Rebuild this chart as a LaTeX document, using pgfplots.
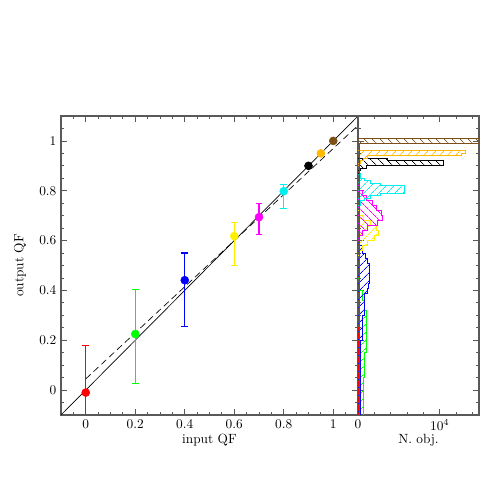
\documentclass[border=0pt]{standalone}
\usepackage{pgfplots}
\pgfplotsset{compat=1.18}
\usetikzlibrary{patterns.meta}

\definecolor{qfred}{RGB}{255,0,0}
\definecolor{qfgreen}{RGB}{0,255,0}
\definecolor{qfblue}{RGB}{0,0,255}
\definecolor{qfyellow}{RGB}{255,240,0}
\definecolor{qfcyan}{RGB}{0,240,240}
\definecolor{qfmagenta}{RGB}{255,0,255}
\definecolor{qforange}{RGB}{255,185,0}
\definecolor{qfbrown}{RGB}{125,80,25}

\pgfplotsset{
  qfpanel/.style={
    scale only axis, height=224.25pt,
    ymin=-0.1, ymax=1.1,
    axis line style={black!65, line width=0.8pt},
    tick style={black!65, line width=0.6pt},
    major tick length=4.5pt, minor tick length=2.2pt,
    tick align=inside,
    ytick={0,0.2,0.4,0.6,0.8,1},
    minor ytick={-0.05,0,0.05,0.1,0.15,0.2,0.25,0.3,0.35,0.4,0.45,0.5,0.55,0.6,0.65,0.7,0.75,0.8,0.85,0.9,0.95,1,1.05},
  },
  % vertical error bar with caps, from lower to upper end
  qfbar/.style={color=#1, line width=0.9pt, mark=-, mark size=2.5pt,
    mark options={color=#1, line width=0.9pt}},
  qfpt/.style={only marks, mark=*, mark size=3pt,
    mark options={fill=#1, draw=#1}},
  hist/.style 2 args={const plot mark right, line width=0.6pt, draw=#1,
    pattern={Lines[angle=#2, distance=4pt, line width=0.55pt]}, pattern color=#1},
}

\begin{document}
\begin{tikzpicture}
\path[use as bounding box] (0,0) rectangle (368.25pt,368.25pt);

% left panel: output vs input QF
\begin{axis}[qfpanel,
  at={(45.75pt,57pt)}, anchor=south west,
  width=222.75pt,
  xmin=-0.1, xmax=1.1,
  xtick={0,0.2,0.4,0.6,0.8,1},
  minor xtick={-0.05,0,0.05,0.1,0.15,0.2,0.25,0.3,0.35,0.4,0.45,0.5,0.55,0.6,0.65,0.7,0.75,0.8,0.85,0.9,0.95,1,1.05},
  xlabel={input QF}, ylabel={output QF},
  xlabel style={at={(axis description cs:0.5,-0.085)}, anchor=center},
  ylabel style={at={(axis description cs:-0.138,0.5)}, anchor=center},
]
\addplot[black, line width=0.5pt] coordinates {(-0.1,-0.1) (1.1,1.1)};
\addplot[black, line width=0.5pt, dash pattern=on 5pt off 3pt] coordinates {(0,0.045) (1.1,1.062)};

% error bars (lower end, upper end)
\addplot[qfbar=qfred] coordinates {(0,-0.21) (0,0.18)};
\addplot[qfbar=qfgreen] coordinates {(0.2,0.028) (0.2,0.405)};
\addplot[qfbar=qfblue] coordinates {(0.4,0.254) (0.4,0.55)};
\addplot[qfbar=qfyellow] coordinates {(0.6,0.499) (0.6,0.673)};
\addplot[qfbar=qfmagenta] coordinates {(0.7,0.623) (0.7,0.749)};
\addplot[qfbar=qfcyan] coordinates {(0.8,0.73) (0.8,0.825)};

% median output QF per input QF
\addplot[qfpt=qfred] coordinates {(0,-0.01)};
\addplot[qfpt=qfgreen] coordinates {(0.2,0.225)};
\addplot[qfpt=qfblue] coordinates {(0.4,0.441)};
\addplot[qfpt=qfyellow] coordinates {(0.6,0.618)};
\addplot[qfpt=qfmagenta] coordinates {(0.7,0.694)};
\addplot[qfpt=qfcyan] coordinates {(0.8,0.798)};
\addplot[qfpt=black] coordinates {(0.9,0.9)};
\addplot[qfpt=qforange] coordinates {(0.95,0.95)};
\addplot[qfpt=qfbrown] coordinates {(1,1)};
\end{axis}

% right panel: histograms of output QF
\begin{axis}[qfpanel,
  at={(268.5pt,57pt)}, anchor=south west,
  width=90.75pt,
  xmin=0, xmax=14800,
  xtick={0,10000}, xticklabels={0,$10^4$},
  minor xtick={2000,4000,6000,8000,12000,14000},
  scaled x ticks=false,
  yticklabels={},
  xlabel={N. obj.},
  xlabel style={at={(axis description cs:0.5,-0.085)}, anchor=center},
]
\addplot[hist={qfred}{45}] table {
n y
0 -0.10
100 -0.10
0 0.25
};
\addplot[hist={qfgreen}{45}] table {
n y
0 -0.10
600 -0.10
800 0.05
1050 0.15
800 0.32
500 0.36
200 0.40
0 0.45
};
\addplot[hist={qfblue}{45}] table {
n y
0 -0.10
300 -0.10
500 0.20
750 0.30
1150 0.39
1300 0.41
1450 0.43
1200 0.51
900 0.53
500 0.55
200 0.58
0 0.60
};
\addplot[hist={qfyellow}{45}] table {
n y
0 0.54
200 0.54
500 0.56
1100 0.58
2000 0.60
2500 0.62
2200 0.64
1500 0.66
700 0.68
200 0.70
0 0.72
};
\addplot[hist={qfmagenta}{-45}] table {
n y
0 0.60
200 0.60
500 0.62
1200 0.64
2400 0.66
2950 0.68
2900 0.70
2300 0.72
1700 0.74
1000 0.76
500 0.78
200 0.80
0 0.82
};
\addplot[hist={qfcyan}{45}] table {
n y
0 0.74
300 0.74
800 0.76
1500 0.77
2700 0.78
5700 0.79
2700 0.82
1500 0.83
800 0.84
300 0.85
0 0.87
};
\addplot[hist={black}{-45}] table {
n y
0 0.87
150 0.87
300 0.88
1000 0.89
10400 0.90
3650 0.92
0 0.93
};
\addplot[hist={qforange}{45}] table {
n y
0 0.90
100 0.90
300 0.91
700 0.92
1200 0.93
12600 0.94
13100 0.95
0 0.96
};
\addplot[hist={qfbrown}{-45}] table {
n y
0 -0.10
150 -0.10
20000 0.99
0 1.01
};
\end{axis}
\end{tikzpicture}
\end{document}
